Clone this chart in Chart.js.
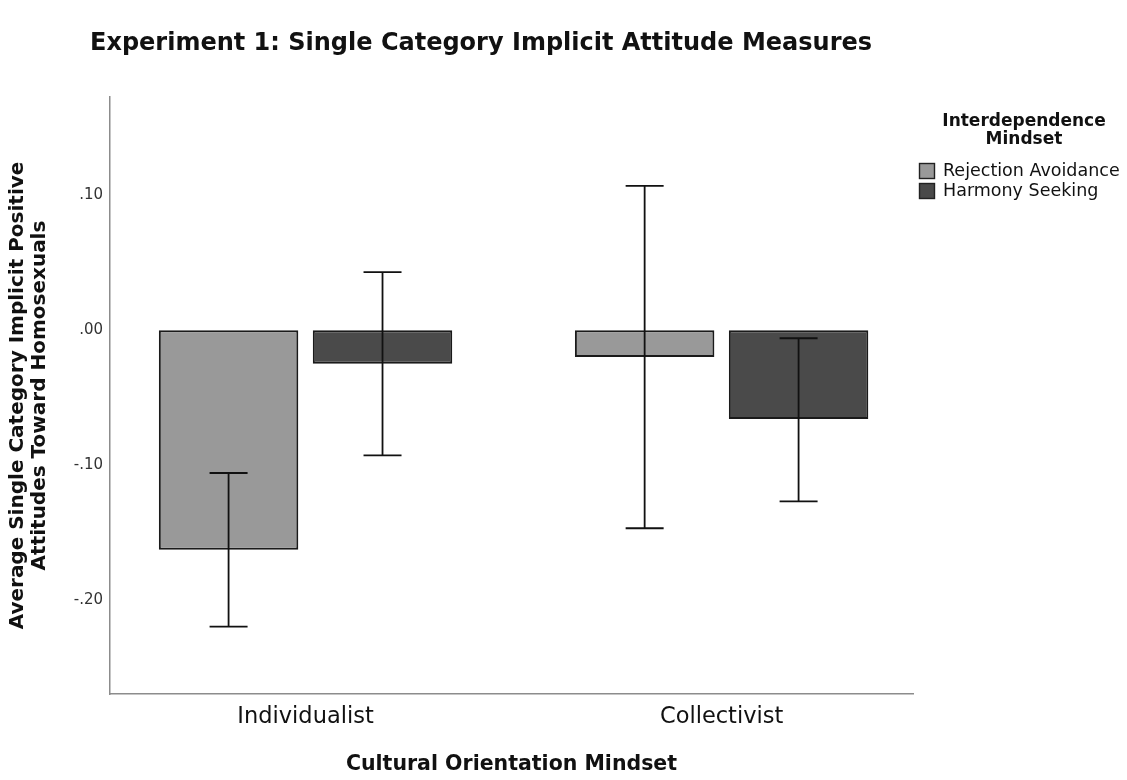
<!DOCTYPE html>
<html>
<head>
<meta charset="utf-8">
<title>Experiment 1: Single Category Implicit Attitude Measures</title>
<script src="https://cdn.jsdelivr.net/npm/chart.js@4.4.1/dist/chart.umd.min.js"></script>
<style>
  html, body { margin: 0; padding: 0; background: #ffffff; }
  #wrap { width: 1127px; height: 780px; position: relative; }
  canvas { display: block; }
</style>
</head>
<body>
<div id="wrap"><canvas id="chart" width="1127" height="780"></canvas></div>
<script>
// ---- data ----
const categories = ['Individualist', 'Collectivist'];
const seriesNames = ['Rejection Avoidance', 'Harmony Seeking'];
const rejectionMeans = [-0.163, -0.020];
const harmonyMeans = [-0.025, -0.066];
// 95% CI bounds
const rejectionLower = [-0.220, -0.147];
const rejectionUpper = [-0.106, 0.107];
const harmonyLower = [-0.093, -0.127];
const harmonyUpper = [0.043, -0.006];
const yTickValues = [-0.2, -0.1, 0, 0.1];
const yTickLabels = ['-.20', '-.10', '.00', '.10'];
const chartTitle = 'Experiment 1: Single Category Implicit Attitude Measures';
const legendTitle = ['Interdependence', 'Mindset'];
const xTitle = 'Cultural Orientation Mindset';
const yTitle = ['Average Single Category Implicit Positive', 'Attitudes Toward Homosexuals'];

const FONT = '"DejaVu Sans", "Liberation Sans", sans-serif';
const fills = ['#999999', '#4a4a4a'];
const axisGray = '#8c8c8c';

const toPoints = (vals) => vals.map((v, i) => ({ x: i, y: v }));

const errorBounds = [
  { lower: rejectionLower, upper: rejectionUpper },
  { lower: harmonyLower, upper: harmonyUpper }
];

// whiskers for the confidence intervals, positioned from each bar element
const errorBarPlugin = {
  id: 'errorBars',
  afterDatasetsDraw(chart) {
    const ctx = chart.ctx;
    const yScale = chart.scales.y;
    ctx.save();
    ctx.strokeStyle = '#111111';
    ctx.lineWidth = 1.8;
    chart.data.datasets.forEach((ds, di) => {
      const meta = chart.getDatasetMeta(di);
      meta.data.forEach((bar, i) => {
        const x = bar.x;
        const yLo = yScale.getPixelForValue(errorBounds[di].lower[i]);
        const yHi = yScale.getPixelForValue(errorBounds[di].upper[i]);
        const cap = 19;
        ctx.beginPath();
        ctx.moveTo(x, yHi); ctx.lineTo(x, yLo);
        ctx.moveTo(x - cap, yHi); ctx.lineTo(x + cap, yHi);
        ctx.moveTo(x - cap, yLo); ctx.lineTo(x + cap, yLo);
        ctx.stroke();
      });
    });
    ctx.restore();
  }
};

// chart heading and the legend block at the right
const headerLegendPlugin = {
  id: 'headerLegend',
  afterDraw(chart) {
    const ctx = chart.ctx;
    ctx.save();
    ctx.fillStyle = '#111111';
    ctx.textBaseline = 'middle';
    ctx.textAlign = 'left';
    ctx.font = 'bold 24px ' + FONT;
    ctx.fillText(chartTitle, 90, 44);

    ctx.textAlign = 'center';
    ctx.font = 'bold 17px ' + FONT;
    ctx.fillText(legendTitle[0], 1024, 122);
    ctx.fillText(legendTitle[1], 1024, 140);

    ctx.textAlign = 'left';
    ctx.font = '17.5px ' + FONT;
    chart.data.datasets.forEach((ds, i) => {
      const top = 163 + i * 20;
      ctx.fillStyle = ds.backgroundColor;
      ctx.fillRect(919, top, 16, 16);
      ctx.strokeStyle = '#222222';
      ctx.lineWidth = 1.4;
      ctx.strokeRect(919.5, top + 0.5, 15, 15);
      ctx.fillStyle = '#111111';
      ctx.fillText(ds.label, 943, top + 8.5);
    });
    ctx.restore();
  }
};

new Chart(document.getElementById('chart'), {
  type: 'bar',
  data: {
    datasets: [
      {
        label: seriesNames[0],
        data: toPoints(rejectionMeans),
        backgroundColor: fills[0],
        borderColor: '#1a1a1a',
        borderWidth: 2,
        borderSkipped: false
      },
      {
        label: seriesNames[1],
        data: toPoints(harmonyMeans),
        backgroundColor: fills[1],
        borderColor: '#1a1a1a',
        borderWidth: 2,
        borderSkipped: false
      }
    ]
  },
  options: {
    responsive: false,
    animation: false,
    events: [],
    categoryPercentage: 0.74,
    barPercentage: 0.906,
    layout: { padding: { top: 97, right: 214, bottom: 0, left: 0 } },
    plugins: {
      legend: { display: false },
      title: { display: false },
      tooltip: { enabled: false }
    },
    scales: {
      x: {
        type: 'linear',
        min: -0.47,
        max: 1.46,
        offset: false,
        grid: { display: false, drawTicks: false },
        border: { display: true, color: axisGray, width: 1.5 },
        afterBuildTicks(scale) {
          scale.ticks = categories.map((c, i) => ({ value: i }));
        },
        afterFit(scale) { scale.height = 86; },
        ticks: {
          padding: 10,
          color: '#111111',
          font: { family: FONT, size: 22.5 },
          autoSkip: false,
          maxRotation: 0,
          callback: (value) => categories[value]
        },
        title: {
          display: true,
          text: xTitle,
          color: '#111111',
          font: { family: FONT, size: 20.5, weight: 'bold' },
          padding: { top: 0, bottom: 3 }
        }
      },
      y: {
        min: -0.27,
        max: 0.173,
        grid: { display: false, drawTicks: false },
        border: { display: true, color: axisGray, width: 1.5 },
        afterBuildTicks(scale) {
          scale.ticks = yTickValues.map(v => ({ value: v }));
        },
        afterFit(scale) { scale.width = 110; },
        ticks: {
          padding: 7,
          color: '#333333',
          font: { family: FONT, size: 15 },
          callback: (value, index) => yTickLabels[index]
        },
        title: {
          display: true,
          text: yTitle,
          color: '#111111',
          font: { family: FONT, size: 20, weight: 'bold', lineHeight: 1.1 },
          padding: { top: 7, bottom: 0 }
        }
      }
    }
  },
  plugins: [errorBarPlugin, headerLegendPlugin]
});
</script>
</body>
</html>
